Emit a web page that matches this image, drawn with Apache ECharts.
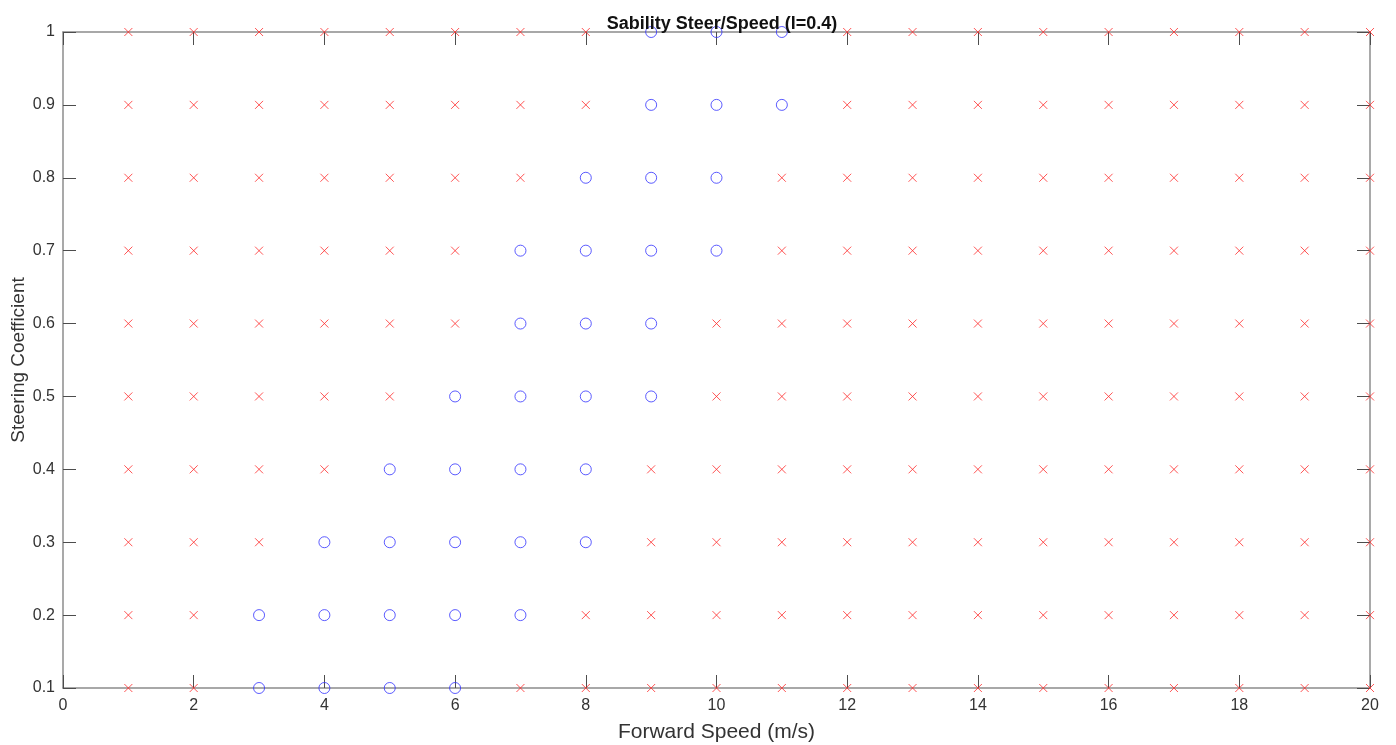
<!DOCTYPE html>
<html>
<head>
<meta charset="utf-8">
<script src="https://cdn.jsdelivr.net/npm/echarts@6/dist/echarts.min.js"></script>
<style>
  html, body { margin: 0; padding: 0; background: #fff; }
  #chart { width: 1396px; height: 745px; }
</style>
</head>
<body>
<div id="chart"></div>
<script>
// forward speeds tested (m/s) and steering coefficients
var speeds = [1, 2, 3, 4, 5, 6, 7, 8, 9, 10, 11, 12, 13, 14, 15, 16, 17, 18, 19, 20];
var coeffs = [0.1, 0.2, 0.3, 0.4, 0.5, 0.6, 0.7, 0.8, 0.9, 1.0];

// stable runs (blue circles), [speed, coeff]
var stablePoints = [
  [3, 0.1], [4, 0.1], [5, 0.1], [6, 0.1],
  [3, 0.2], [4, 0.2], [5, 0.2], [6, 0.2], [7, 0.2],
  [4, 0.3], [5, 0.3], [6, 0.3], [7, 0.3], [8, 0.3],
  [5, 0.4], [6, 0.4], [7, 0.4], [8, 0.4],
  [6, 0.5], [7, 0.5], [8, 0.5], [9, 0.5],
  [7, 0.6], [8, 0.6], [9, 0.6],
  [7, 0.7], [8, 0.7], [9, 0.7], [10, 0.7],
  [8, 0.8], [9, 0.8], [10, 0.8],
  [9, 0.9], [10, 0.9], [11, 0.9],
  [9, 1.0], [10, 1.0], [11, 1.0]
];

// every other tested run is unstable (red crosses)
var unstablePoints = [];
coeffs.forEach(function (c) {
  speeds.forEach(function (s) {
    var hit = stablePoints.some(function (p) { return p[0] === s && p[1] === c; });
    if (!hit) unstablePoints.push([s, c]);
  });
});

var chart = echarts.init(document.getElementById('chart'));

var lineCol = '#8c8c8c';
var tickCol = '#4d4d4d';
var labelCol = '#333';
var font = 'Liberation Sans, Arial, sans-serif';

function xAx(pos, showLabel) {
  return {
    type: 'value', position: pos, min: 0, max: 20, interval: 2,
    axisLine: { show: true, onZero: false, lineStyle: { color: lineCol, width: 1.5 } },
    axisTick: { show: true, inside: true, length: 13, lineStyle: { color: tickCol } },
    axisLabel: { show: showLabel, color: labelCol, fontSize: 16, fontFamily: font, margin: 10 },
    splitLine: { show: false },
    name: showLabel ? 'Forward Speed (m/s)' : '',
    nameLocation: 'middle', nameGap: 34, nameMoveOverlap: false,
    nameTextStyle: { color: labelCol, fontSize: 21, fontFamily: font }
  };
}

function yAx(pos, showLabel) {
  return {
    type: 'value', position: pos, min: 0.1, max: 1, interval: 0.1,
    axisLine: { show: true, onZero: false, lineStyle: { color: lineCol, width: 1.5 } },
    axisTick: { show: true, inside: true, length: 13, lineStyle: { color: tickCol } },
    axisLabel: {
      show: showLabel, color: labelCol, fontSize: 16, fontFamily: font, margin: 8,
      formatter: function (v) { return String(+v.toFixed(1)); }
    },
    splitLine: { show: false },
    name: showLabel ? 'Steering Coefficient' : '',
    nameLocation: 'middle', nameGap: 35, nameMoveOverlap: false,
    nameTextStyle: { color: labelCol, fontSize: 19, fontFamily: font }
  };
}

var option = {
  backgroundColor: '#fff',
  animation: false,
  title: {
    text: 'Sability Steer/Speed (l=0.4)',
    left: 717, top: 10, textAlign: 'center',
    textStyle: { color: '#111', fontSize: 18, fontWeight: 'bold', fontFamily: font }
  },
  grid: { left: 63, right: 26, top: 32, bottom: 57, containLabel: false, outerBoundsMode: 'none' },
  xAxis: [xAx('bottom', true), xAx('top', false)],
  yAxis: [yAx('left', true), yAx('right', false)],
  series: [
    {
      type: 'scatter',
      data: unstablePoints,
      clip: false,
      symbol: 'path://M0,0L10,10M10,0L0,10',
      symbolSize: 8,
      itemStyle: { color: 'transparent', borderColor: '#ff2a2a', borderWidth: 1 }
    },
    {
      type: 'scatter',
      data: stablePoints,
      clip: false,
      symbol: 'circle',
      symbolSize: 11,
      itemStyle: { color: 'transparent', borderColor: '#3333ff', borderWidth: 1 }
    }
  ]
};

chart.setOption(option);
</script>
</body>
</html>
